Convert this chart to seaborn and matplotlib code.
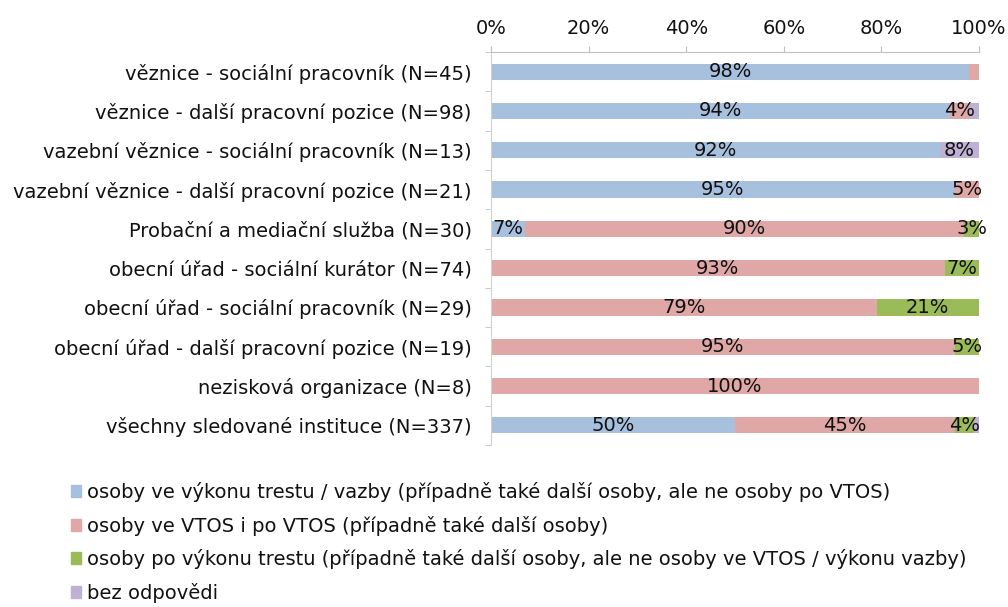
import matplotlib.pyplot as plt
import matplotlib.patches as mpatches
import pandas as pd
import seaborn as sns

#%% DATA

kategorie = ["věznice - sociální pracovník (N=45)",
             "věznice - další pracovní pozice (N=98)",
             "vazební věznice - sociální pracovník (N=13)",
             "vazební věznice - další pracovní pozice (N=21)",
             "Probační a mediační služba (N=30)",
             "obecní úřad - sociální kurátor (N=74)",
             "obecní úřad - sociální pracovník (N=29)",
             "obecní úřad - další pracovní pozice (N=19)",
             "nezisková organizace (N=8)",
             "všechny sledované instituce (N=337)"]

vykon = [98, 94, 92, 95, 7, 0, 0, 0, 0, 50]
vtos = [2, 4, 0, 5, 90, 93, 79, 95, 100, 45]
po_vykonu = [0, 0, 0, 0, 3, 7, 21, 5, 0, 4]
bez_odp = [0, 2, 8, 0, 0, 0, 0, 0, 0, 1]

serie = ["osoby ve výkonu trestu / vazby (případně také další osoby, ale ne osoby po VTOS)",
         "osoby ve VTOS i po VTOS (případně také další osoby)",
         "osoby po výkonu trestu (případně také další osoby, ale ne osoby ve VTOS / výkonu vazby)",
         "bez odpovědi"]
barvy = ["#a7c0de", "#dfa7a6", "#9bbb59", "#bfb1d3"]

datos = pd.DataFrame({"kat": kategorie, serie[0]: vykon, serie[1]: vtos,
                      serie[2]: po_vykonu, serie[3]: bez_odp})

#%% GRAF

sns.set_style("white")
plt.rcParams['font.family'] = ['DejaVu Sans']
plt.rcParams['text.color'] = '#111111'
velikost = 14

fig = plt.figure(figsize=(10.08, 6.07), dpi=100)
ax = fig.add_axes([491 / 1008, 1 - 445 / 607, 488 / 1008, (445 - 52) / 607])

kumul = datos[serie].cumsum(axis=1)

# draw cumulative bars from the back so they stack
for s, c in zip(serie[::-1], barvy[::-1]):
    sns.barplot(x=kumul[s], y=datos["kat"], color=c, orient='h',
                width=0.41, ax=ax, linewidth=0, saturation=1)

## labels in the middle of segments ----
for i in range(len(kategorie)):
    zac = 0
    for s in serie:
        v = datos[s][i]
        if v >= 3:
            ax.text(zac + v / 2, i, "%d%%" % v, ha='center', va='center',
                    fontsize=velikost, color='#111111')
        zac += v

ax.set_xlim(0, 100)
ax.set_ylim(9.5, -0.5)
ax.set_xticks([0, 20, 40, 60, 80, 100])
ax.set_xticklabels(["0%", "20%", "40%", "60%", "80%", "100%"])
ax.xaxis.tick_top()
ax.tick_params(axis='x', direction='out', length=4.3, color='#bfbfbf',
               labelsize=velikost, pad=6, labelcolor='#111111')
ax.set_yticks([i - 0.5 for i in range(11)], minor=True)
ax.tick_params(axis='y', which='major', length=0, labelsize=velikost, pad=14,
               labelcolor='#111111')
ax.tick_params(axis='y', which='minor', length=4.3, color='#bfbfbf', left=True)
ax.set_xlabel("")
ax.set_ylabel("")
for k in ['bottom', 'right']:
    ax.spines[k].set_visible(False)
ax.spines['top'].set_color('#bfbfbf')
ax.spines['left'].set_color('#d0d0d0')

## legend ----
handles = [mpatches.Patch(color=c) for c in barvy]
fig.legend(handles, serie, loc='upper left', bbox_to_anchor=(0.07, 1 - 482 / 607),
           frameon=False, fontsize=velikost, handlelength=0.55, handleheight=0.55,
           handletextpad=0.3, labelspacing=0.7, borderpad=0, borderaxespad=0,
           labelcolor='#111111')

fig.savefig('out.png', dpi=100)
